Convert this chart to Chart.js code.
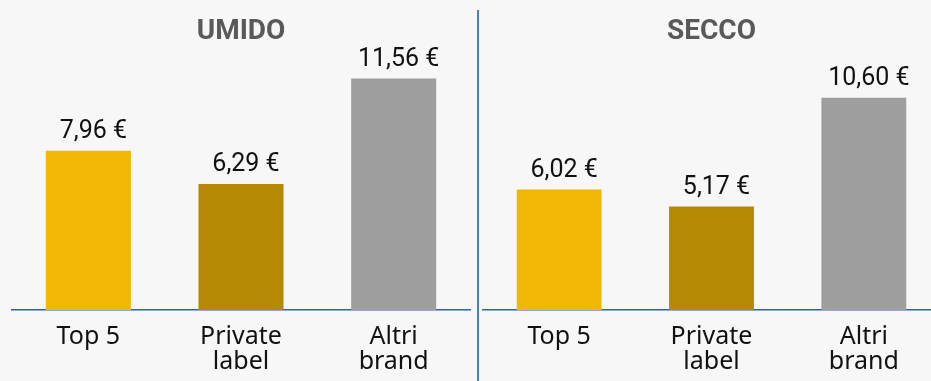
<!DOCTYPE html>
<html>
<head>
<meta charset="utf-8">
<script src="https://cdn.jsdelivr.net/npm/chart.js@4/dist/chart.umd.min.js"></script>
<style>
  html, body { margin: 0; padding: 0; background: #f7f7f7; }
  #wrap { position: relative; width: 931px; height: 381px; overflow: hidden; background: #f7f7f7; }
  #left { position: absolute; left: 0; top: 0; width: 478px; height: 381px; }
  #right { position: absolute; left: 480px; top: 0; width: 451px; height: 381px; overflow: hidden; }
  #right .inner { width: 470px; height: 381px; }
  #divider { position: absolute; left: 477px; top: 10px; width: 2px; height: 371px; background: #4a7cc4; }
</style>
</head>
<body>
<div id="wrap">
  <div id="left"><canvas id="umido-chart" width="478" height="381"></canvas></div>
  <div id="divider"></div>
  <div id="right"><div class="inner"><canvas id="secco-chart" width="470" height="381"></canvas></div></div>
</div>
<script>
var categories = [["Top 5"], ["Private", "label"], ["Altri", "brand"]];
var umido = [7.96, 6.29, 11.56];
var secco = [6.02, 5.17, 10.60];
var barColors = ["#f2b705", "#b58904", "#9e9e9e"];

// price label above each bar, e.g. "7,96 €"
var valueLabels = {
  id: 'valueLabels',
  afterDatasetsDraw: function(chart) {
    var ctx = chart.ctx;
    var meta = chart.getDatasetMeta(0);
    ctx.save();
    ctx.font = '25px Roboto';
    ctx.fillStyle = '#111';
    ctx.textAlign = 'center';
    ctx.textBaseline = 'alphabetic';
    meta.data.forEach(function(bar, i) {
      var v = chart.data.datasets[0].data[i];
      ctx.fillText(v.toFixed(2).replace('.', ',') + ' €', bar.x + 5, bar.y - 13);
    });
    ctx.restore();
  }
};

function makeChart(id, title, values, pad) {
  return new Chart(document.getElementById(id), {
    type: 'bar',
    data: {
      labels: categories,
      datasets: [{ data: values, backgroundColor: barColors, categoryPercentage: 1, barPercentage: 0.557 }]
    },
    options: {
      responsive: false,
      animation: false,
      layout: { padding: { left: pad.left, right: pad.right, top: 0, bottom: 0 } },
      plugins: {
        legend: { display: false },
        tooltip: { enabled: false },
        title: {
          display: true,
          text: title,
          color: '#595959',
          font: { family: 'Roboto', size: 28, weight: 'bold', lineHeight: 1.1 },
          padding: { top: 17, bottom: 2 }
        }
      },
      scales: {
        x: {
          grid: { display: false, drawTicks: false },
          border: { display: true, color: '#2f5fb0', width: 1.5 },
          ticks: {
            color: '#111',
            padding: 14,
            maxRotation: 0,
            font: { family: 'Noto Sans', size: 25, lineHeight: 1.0 }
          },
          afterFit: function(scale) { scale.height = 71; }
        },
        y: {
          display: false,
          min: 0,
          max: 13
        }
      }
    },
    plugins: [valueLabels]
  });
}

makeChart('umido-chart', 'UMIDO', umido, { left: 12, right: 8 });
makeChart('secco-chart', 'SECCO', secco, { left: 3, right: 10 });
</script>
</body>
</html>
